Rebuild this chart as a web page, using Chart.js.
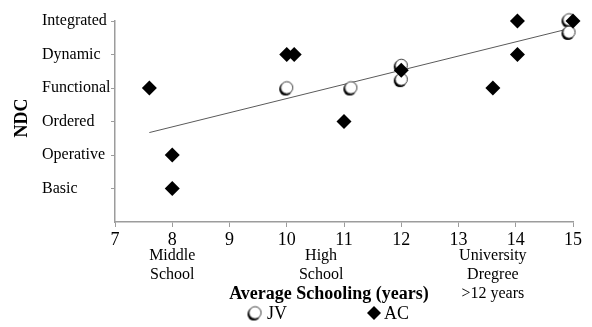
<!DOCTYPE html>
<html>
<head>
<meta charset="utf-8">
<script src="https://cdn.jsdelivr.net/npm/chart.js@4/dist/chart.umd.min.js"></script>
<style>
  html, body { margin: 0; padding: 0; background: #fff; }
</style>
</head>
<body>
<canvas id="chart" width="592" height="327"></canvas>
<script>
// NDC levels, from the lowest (1) to the highest (6)
const ndcLevels = ['', 'Basic', 'Operative', 'Ordered', 'Functional', 'Dynamic', 'Integrated'];

// JV: average schooling (years) and NDC level
const jvYears = [10, 11.12, 12, 12, 14.93, 14.93];
const jvLevel = [4, 4, 4.67, 4.25, 6.03, 5.66];

// AC: average schooling (years) and NDC level
const acYears = [7.6, 8, 8, 10, 10.13, 11, 12, 13.6, 14.03, 14.03, 15];
const acLevel = [4, 2, 1, 5, 5, 3, 4.53, 4, 6, 5, 6];

// Linear trend, end points
const trendYears = [7.6, 15];
const trendLevel = [2.67, 5.8];

// Schooling stages written under the year axis
const stageNames = [['Middle', 'School'], ['High', 'School'], ['University', 'Dregree', '>12 years']];
const stageYears = [8, 10.6, 13.6];

const serif = '"Liberation Serif", "Times New Roman", serif';
const axisGray = '#9c9c9c';

const pairs = (xs, ys) => xs.map((v, i) => ({ x: v, y: ys[i] }));

// Open circle with a dark shadow on its lower-left side
function ringMarker() {
  const c = document.createElement('canvas');
  c.width = 17; c.height = 17;
  const g = c.getContext('2d');
  g.fillStyle = '#000';
  g.beginPath(); g.arc(7.4, 9.6, 6.4, 0, Math.PI * 2); g.fill();
  g.fillStyle = '#fff'; g.strokeStyle = '#3a3a3a'; g.lineWidth = 1;
  g.beginPath(); g.arc(8.6, 8.2, 6, 0, Math.PI * 2); g.fill(); g.stroke();
  return c;
}
const ring = ringMarker();

function diamond(ctx, x, y, r) {
  ctx.beginPath();
  ctx.moveTo(x - r, y); ctx.lineTo(x, y - r); ctx.lineTo(x + r, y); ctx.lineTo(x, y + r);
  ctx.closePath(); ctx.fill();
}

// Axis titles, stage names and the legend
const annotations = {
  id: 'annotations',
  afterDraw(chart) {
    const { ctx } = chart;
    const x = chart.scales.x;
    ctx.save();
    ctx.fillStyle = '#000';
    ctx.textAlign = 'center';
    ctx.textBaseline = 'middle';

    ctx.font = '16px ' + serif;
    stageNames.forEach((lines, i) => {
      const px = x.getPixelForValue(stageYears[i]);
      lines.forEach((t, j) => ctx.fillText(t, px, x.top + 34 + j * 19));
    });

    ctx.font = 'bold 18px ' + serif;
    ctx.fillText('Average Schooling (years)', 329, 294);

    // legend
    ctx.drawImage(ring, 255 - ring.width / 2, 313 - ring.height / 2);
    diamond(ctx, 374, 313, 7);
    ctx.font = '18px ' + serif;
    ctx.textAlign = 'left';
    ctx.fillText(chart.data.datasets[0].label, 267, 314);
    ctx.fillText(chart.data.datasets[1].label, 384, 314);

    ctx.textAlign = 'center';
    ctx.font = 'bold 18px ' + serif;
    ctx.translate(22, 118);
    ctx.rotate(-Math.PI / 2);
    ctx.fillText('NDC', 0, 0);
    ctx.restore();
  }
};

new Chart(document.getElementById('chart'), {
  type: 'scatter',
  data: {
    datasets: [
      {
        label: 'JV',
        data: pairs(jvYears, jvLevel),
        pointStyle: ring,
        clip: false,
        order: 2
      },
      {
        label: 'AC',
        data: pairs(acYears, acLevel),
        pointStyle: 'rectRot',
        pointRadius: 7.5,
        backgroundColor: '#000',
        borderColor: '#000',
        borderWidth: 0,
        clip: false,
        order: 1
      },
      {
        label: 'Trend',
        data: pairs(trendYears, trendLevel),
        showLine: true,
        borderColor: '#5a5a5a',
        borderWidth: 1,
        pointRadius: 0,
        fill: false,
        clip: false,
        order: 3
      }
    ]
  },
  options: {
    responsive: false,
    animation: false,
    devicePixelRatio: 1,
    layout: { padding: { left: 42, right: 19, top: 21, bottom: 0 } },
    plugins: { legend: { display: false }, tooltip: { enabled: false } },
    scales: {
      x: {
        type: 'linear',
        min: 7,
        max: 15,
        ticks: { stepSize: 1, color: '#000', padding: 2, font: { family: serif, size: 18 } },
        grid: { drawOnChartArea: false, drawTicks: true, tickLength: 5, color: axisGray },
        border: { color: axisGray, width: 1.5 },
        afterFit(scale) { scale.height = 105; }
      },
      y: {
        type: 'linear',
        min: 0,
        max: 6,
        ticks: {
          stepSize: 1,
          color: '#000',
          crossAlign: 'far',
          font: { family: serif, size: 16 },
          callback: v => ndcLevels[v] || ''
        },
        grid: {
          drawOnChartArea: false,
          drawTicks: true,
          tickLength: 4,
          color: ctx => (ctx.tick && ctx.tick.value === 0 ? 'rgba(0,0,0,0)' : axisGray)
        },
        border: { color: axisGray, width: 1.5 },
        afterFit(scale) { scale.width = 73; }
      }
    }
  },
  plugins: [annotations]
});
</script>
</body>
</html>
